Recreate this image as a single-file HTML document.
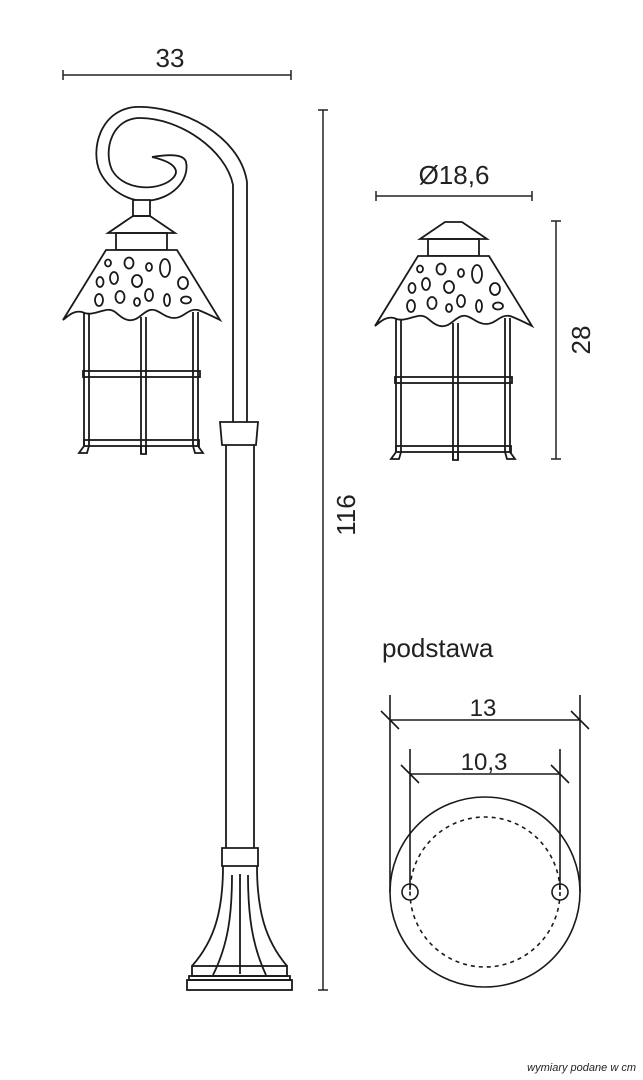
<!DOCTYPE html>
<html><head><meta charset="utf-8"><style>
html,body{margin:0;padding:0;background:#fff;}
svg{display:block;}
text{font-family:"Liberation Sans",sans-serif;fill:#222;}
</style></head><body>
<svg width="643" height="1080" viewBox="0 0 643 1080" xmlns="http://www.w3.org/2000/svg">
<defs>
<g id="lant" fill="none" stroke="#1a1a1a" stroke-width="1.8">
  <path d="M445,222 H462 L487,239 H420 Z"/>
  <rect x="428" y="239" width="51" height="17"/>
  <path d="M418,256 H489 L532,326 C524,322 516,318 510,316 C500,314 496,324 486,324 C476,324 470,314 462,316 C454,318 450,328 440,326 C430,324 428,314 418,316 C408,318 402,322 394,318 C386,316 380,322 375,326 Z" fill="#fff"/>
  <ellipse cx="420" cy="269" rx="3" ry="3.5"/><ellipse cx="441" cy="269" rx="4.5" ry="5.5"/>
  <ellipse cx="461" cy="273" rx="3" ry="4"/><ellipse cx="477" cy="274" rx="5" ry="9"/>
  <ellipse cx="412" cy="288" rx="3.5" ry="5"/><ellipse cx="426" cy="284" rx="4" ry="6"/>
  <ellipse cx="449" cy="287" rx="5" ry="6"/><ellipse cx="495" cy="289" rx="5" ry="6"/>
  <ellipse cx="411" cy="306" rx="4" ry="6"/><ellipse cx="432" cy="303" rx="4.5" ry="6"/>
  <ellipse cx="449" cy="308" rx="3" ry="4"/><ellipse cx="461" cy="301" rx="4" ry="6"/>
  <ellipse cx="479" cy="306" rx="3" ry="6"/><ellipse cx="498" cy="306" rx="5" ry="3.5"/>
  <path d="M396,318 V452 M401,320 V452 M453,323 V460 M458,323 V460 M505,318 V452 M510,318 V452"/>
  <rect x="395" y="377" width="117" height="6"/>
  <rect x="396" y="446" width="115" height="6"/>
  <path d="M396,452 L391,459 H399 L401,452 M505,452 L507,459 H515 L510,452 M453,452 V460 H458 V452"/>
</g>
</defs>

<!-- dimension 33 -->
<text x="170" y="67" font-size="26" text-anchor="middle">33</text>
<path d="M63,75 H291 M63,70 V80 M291,70 V80" stroke="#222" stroke-width="1.5"/>

<!-- pole hook -->
<g fill="none" stroke="#1a1a1a" stroke-width="1.8">
  <path d="M247,422 V182 C240,135 180,105 135,107 C100,110 90,150 100,172 C110,192 130,201 145,201 C172,200 190,180 186,162 C184,154 170,154 152,157"/>
  <path d="M233,422 V185 C226,150 180,118 140,118 C112,118 103,150 112,170 C122,188 150,192 168,182 C182,173 178,163 152,157"/>
  <rect x="133" y="200" width="17" height="16" fill="#fff"/>
  <path d="M220,422 H258 L256,445 H222 Z"/>
  <path d="M226,445 V848 M254,445 V848"/>
  <path d="M222,848 H258 V866 H222 Z"/>
  <path d="M223,866 C223,910 215,940 192,966 M257,866 C257,910 265,940 287,966"/>
  <path d="M232,875 C232,915 228,945 213,975 M240,874 V974 M248,875 C248,915 252,945 266,975"/>
  <rect x="192" y="966" width="95" height="10"/>
  <rect x="189" y="976" width="101" height="4"/>
  <rect x="187" y="980" width="105" height="10"/>
</g>
<use href="#lant" transform="translate(-312,-6)"/>

<!-- dimension 116 -->
<path d="M323,110 V990 M318,110 H328 M318,990 H328" stroke="#222" stroke-width="1.5"/>
<text transform="translate(355,515) rotate(-90)" font-size="26" text-anchor="middle">116</text>

<!-- right lantern -->
<text x="454" y="184" font-size="26" text-anchor="middle">Ø18,6</text>
<path d="M376,196 H532 M376,191 V201 M532,191 V201" stroke="#222" stroke-width="1.5"/>
<use href="#lant"/>
<path d="M556,221 V459 M551,221 H561 M551,459 H561" stroke="#222" stroke-width="1.5"/>
<text transform="translate(590,340) rotate(-90)" font-size="26" text-anchor="middle">28</text>

<!-- base -->
<text x="382" y="657" font-size="26">podstawa</text>
<g fill="none" stroke="#1a1a1a" stroke-width="1.6">
  <path d="M390,695 V892 M580,695 V892 M390,720 H580 M381,711 L399,729 M571,711 L589,729"/>
  <path d="M410,749 V890 M560,749 V890 M410,774 H560 M401,765 L419,783 M551,765 L569,783"/>
  <circle cx="485" cy="892" r="95"/>
  <circle cx="485" cy="892" r="75" stroke-dasharray="4,4"/>
  <circle cx="410" cy="892" r="8"/>
  <circle cx="560" cy="892" r="8"/>
</g>
<text x="483" y="716" font-size="24" text-anchor="middle">13</text>
<text x="484" y="770" font-size="24" text-anchor="middle">10,3</text>

<text x="636" y="1071" font-size="11" font-style="italic" text-anchor="end">wymiary podane w cm</text>
</svg>
</body></html>
